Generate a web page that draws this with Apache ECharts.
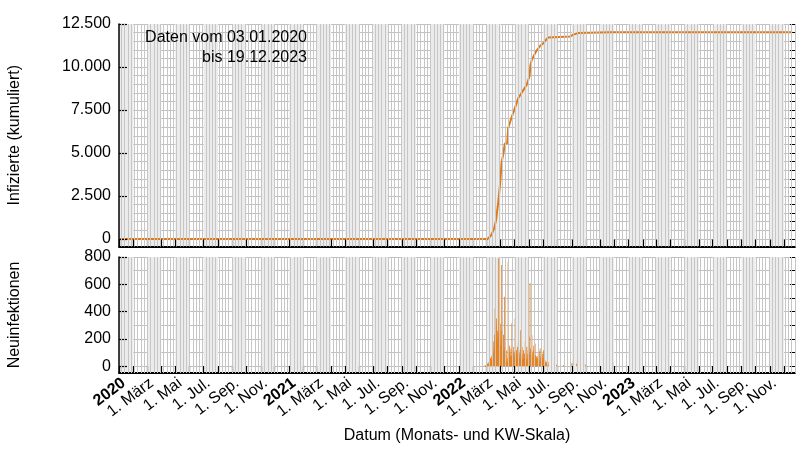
<!DOCTYPE html>
<html><head><meta charset="utf-8">
<script src="https://cdn.jsdelivr.net/npm/echarts@6/dist/echarts.min.js"></script>
<style>html,body{margin:0;padding:0;background:#fff}#c{width:800px;height:450px}</style>
</head><body><div id="c"></div>
<script>
// ---- data ----
const cumDates = ['2020-01-03','2022-03-04','2022-03-12','2022-03-18','2022-03-22','2022-03-27','2022-03-31','2022-04-03','2022-04-07','2022-04-10','2022-04-15','2022-04-17','2022-04-24','2022-05-02','2022-05-09','2022-05-18','2022-05-27','2022-05-31','2022-06-02','2022-06-04','2022-06-07','2022-06-16','2022-06-24','2022-07-01','2022-07-12','2022-08-28','2022-09-04','2022-09-15','2022-11-22','2023-12-19'];
const cumValues = [0,0,230,620,1100,2200,3300,4450,5000,5550,5560,6440,7030,7650,8200,8580,8970,9050,9460,10100,10430,10900,11200,11360,11720,11770,11880,11980,12015,12015];
const newStart = [2022, 1, 22]; // 22.02.2022, first day of the daily series
const newValues = [0,2,0,3,0,5,4,
 8,12,10,18,25,15,30,45,38,60,52,70,48,85,110,95,180,140,230,423,160,290,350,210,260,180,790,
 240,338,200,310,150,260,741,190,325,120,230,90,509,140,60,80,40,117,30,60,766,120,90,150,100,
 70,130,80,315,60,90,142,110,70,95,350,80,60,117,90,140,50,167,75,100,60,120,264,90,70,140,50,
 85,117,60,95,70,180,55,40,142,90,60,117,150,220,90,607,130,80,110,228,70,95,117,150,60,40,167,
 80,55,70,45,60,75,95,50,110,40,130,70,55,70,45,90,60,117,40,25,45,30,20,35,15,25,10,30,5];
const lateDates = ['2022-07-30','2022-08-14','2022-09-01','2022-09-04','2022-09-11','2022-09-30','2022-11-28'];
const lateValues = [10,8,22,27,18,12,25];
const topLabelValues = [0,2500,5000,7500,10000,12500];
const topMinorValues = [0,500,1000,1500,2000,2500,3000,3500,4000,4500,5000,5500,6000,6500,7000,7500,8000,8500,9000,9500,10000,10500,11000,11500,12000,12500];
const botLabelValues = [0,200,400,600,800];
const botMinorValues = [0,100,200,300,400,500,600,700,800];
const monthLabels = {2:'1. März',4:'1. Mai',6:'1. Jul.',8:'1. Sep.',10:'1. Nov.'};
const years = [2020,2021,2022,2023];

// ---- helpers ----
const FONT = '"Liberation Sans", Arial, sans-serif';
const X_MIN = new Date(2020,0,1).getTime();
const X_MAX = new Date(2023,11,25).getTime();
const ts = s => { const p = s.split('-'); return new Date(+p[0], +p[1]-1, +p[2]).getTime(); };
const fmt = v => String(v).replace(/\B(?=(\d{3})+(?!\d))/g, '.');

const monthStarts = [], oddMonthStarts = [], shade = [];
years.forEach(y => { for (let m = 0; m < 12; m++) {
  const t = new Date(y, m, 1).getTime();
  monthStarts.push(t);
  if (m % 2 === 0) { oddMonthStarts.push(t); shade.push([{xAxis: t}, {xAxis: new Date(y, m+1, 1).getTime()}]); }
}});
const weekLines = [];
for (let d = new Date(2019,11,30); d.getTime() <= X_MAX; d = new Date(d.getFullYear(), d.getMonth(), d.getDate()+7)) {
  if (d.getTime() > X_MIN) weekLines.push({xAxis: d.getTime()});
}

const cumData = cumDates.map((d,i) => [ts(d), cumValues[i]]);
const newData = newValues.map((v,i) => [new Date(newStart[0], newStart[1], newStart[2]+i).getTime(), v])
  .concat(lateDates.map((d,i) => [ts(d), lateValues[i]]));

function bgSeries(xi, yi) {
  return {
    type: 'line', xAxisIndex: xi, yAxisIndex: yi, data: [], z: 0, silent: true,
    markArea: { silent: true, itemStyle: { color: '#ececec' }, data: shade },
    markLine: { silent: true, symbol: ['none','none'], label: { show: false },
      lineStyle: { color: '#c6c6c6', width: 1, type: 'solid' }, emphasis: { disabled: true }, data: weekLines }
  };
}
function xAxis(gi, withLabels) {
  const ax = {
    type: 'value', gridIndex: gi, min: X_MIN, max: X_MAX, z: 4,
    axisLine: { show: true, onZero: false, lineStyle: { color: '#000', width: 1.8 } },
    axisTick: { show: true, inside: true, length: 7, customValues: monthStarts, lineStyle: { color: '#000', width: 1.2 } },
    splitLine: { show: false },
    axisLabel: { show: false }
  };
  if (withLabels) {
    ax.axisLabel = {
      show: true, customValues: oddMonthStarts, rotate: 37, margin: 2, verticalAlign: 'top', color: '#000',
      fontFamily: FONT, fontSize: 16,
      formatter: v => { const d = new Date(v); return d.getMonth() === 0 ? '{b|' + d.getFullYear() + '}' : monthLabels[d.getMonth()]; },
      rich: { b: { fontWeight: 'bold', fontSize: 16, fontFamily: FONT, color: '#000' } }
    };
    ax.name = 'Datum (Monats- und KW-Skala)';
    ax.nameLocation = 'middle';
    ax.nameGap = 55;
    ax.nameTextStyle = { fontFamily: FONT, fontSize: 16, color: '#000' };
  }
  return ax;
}
function yMain(gi, min, max, labels, name) {
  return {
    type: 'value', gridIndex: gi, min: min, max: max, z: 4,
    name: name, nameLocation: 'middle', nameGap: 96,
    nameTextStyle: { fontFamily: FONT, fontSize: 16, color: '#000' },
    axisLine: { show: true, onZero: false, lineStyle: { color: '#000', width: 1.5 } },
    axisTick: { show: true, inside: true, length: 8, customValues: labels, lineStyle: { color: '#000', width: 1.2 } },
    axisLabel: { show: true, customValues: labels, margin: 8, color: '#000', fontFamily: FONT, fontSize: 16, formatter: fmt },
    splitLine: { show: false }
  };
}
function yMinor(gi, min, max, vals) {
  return {
    type: 'value', gridIndex: gi, min: min, max: max, z: 1,
    axisLine: { show: false, onZero: false },
    axisTick: { show: true, inside: true, length: 5, customValues: vals, lineStyle: { color: '#000', width: 1 } },
    axisLabel: { show: false },
    splitLine: { show: true, lineStyle: { color: '#c0c0c0', width: 1 } }
  };
}

const chart = echarts.init(document.getElementById('c'), null, { renderer: 'canvas' });
chart.setOption({
  animation: false,
  backgroundColor: '#fff',
  grid: [
    { left: 119, right: 5, top: 24, height: 222.5, outerBoundsMode: 'none' },
    { left: 119, right: 5, top: 257, height: 116, outerBoundsMode: 'none' }
  ],
  xAxis: [ xAxis(0, false), xAxis(1, true) ],
  yAxis: [
    yMain(0, -440, 12500, topLabelValues, 'Infizierte (kumuliert)'),
    yMinor(0, -440, 12500, topMinorValues),
    yMain(1, -50, 800, botLabelValues, 'Neuinfektionen'),
    yMinor(1, -50, 800, botMinorValues)
  ],
  series: [
    bgSeries(0, 1),
    bgSeries(1, 3),
    { type: 'line', xAxisIndex: 0, yAxisIndex: 0, data: cumData, showSymbol: false, z: 3,
      lineStyle: { color: '#e07a16', width: 2 }, itemStyle: { color: '#e07a16' } },
    { type: 'bar', xAxisIndex: 1, yAxisIndex: 2, data: newData, barWidth: 1, z: 3,
      itemStyle: { color: 'rgba(232,124,20,0.85)' } }
  ],
  graphic: [
    { type: 'text', x: 307, y: 38, z: 10, style: { text: 'Daten vom 03.01.2020', align: 'right', verticalAlign: 'middle', font: '16px ' + FONT, fill: '#000' } },
    { type: 'text', x: 307, y: 58, z: 10, style: { text: 'bis 19.12.2023', align: 'right', verticalAlign: 'middle', font: '16px ' + FONT, fill: '#000' } }
  ]
});
</script></body></html>
